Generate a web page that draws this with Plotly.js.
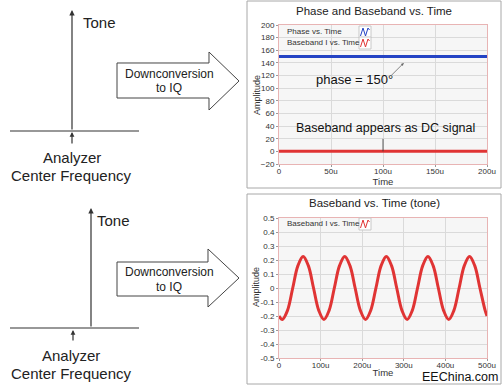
<!DOCTYPE html>
<html>
<head>
<meta charset="utf-8">
<script src="https://cdn.plot.ly/plotly-3.0.1.min.js"></script>
<style>html,body{margin:0;padding:0;background:#fff;}#chart{width:502px;height:386px;}</style>
</head>
<body>
<div id="chart"></div>
<script>
// ---- Data ----
const phaseTime = [0, 25, 27, 30, 50, 52, 55, 58, 100, 102, 105, 188, 190, 193, 200];
const phaseDeg  = [150, 150, 151, 150, 150, 151, 150.5, 150, 150, 151, 150, 150, 151, 150, 150];
const dcTime = [0, 50, 100, 150, 200];
const dcAmp  = [0, 0, 0, 0, 0];
const toneTime = [0, 8, 20.5, 33, 45.5, 58, 70.5, 83, 95.5, 108, 120.5, 133, 145.5, 158, 170.5, 183, 195.5, 208, 220.5, 233, 245.5, 258, 270.5, 283, 295.5, 308, 320.5, 333, 345.5, 358, 370.5, 383, 395.5, 408, 420.5, 433, 445.5, 458, 470.5, 483, 495.5, 500];
const toneAmp = [-0.2,
  -0.225, -0.16, 0, 0.16, 0.225, 0.16, 0, -0.16,
  -0.225, -0.16, 0, 0.16, 0.225, 0.16, 0, -0.16,
  -0.225, -0.16, 0, 0.16, 0.225, 0.16, 0, -0.16,
  -0.225, -0.16, 0, 0.16, 0.225, 0.16, 0, -0.16,
  -0.225, -0.16, 0, 0.16, 0.225, 0.16, 0, -0.16,
  -0.2];
const topXTicks = [0, 50, 100, 150, 200];
const topXLabels = ['0', '50u', '100u', '150u', '200u'];
const topYTicks = [-20, 0, 20, 40, 60, 80, 100, 120, 140, 160, 180, 200];
const botXTicks = [0, 100, 200, 300, 400, 500];
const botXLabels = ['0', '100u', '200u', '300u', '400u', '500u'];
const botYTicks = [-0.5, -0.4, -0.3, -0.2, -0.1, 0, 0.1, 0.2, 0.3, 0.4, 0.5];
const botYLabels = ['-0.5', '-0.4', '-0.3', '-0.2', '-0.1', '0', '0.1', '0.2', '0.3', '0.4', '0.5'];
const seriesNames = ['Phase vs. Time', 'Baseband I vs. Time'];
const seriesColors = ['#2443c4', '#e03434'];

// ---- Helpers (pixel -> paper) ----
const W = 502, H = 386;
const PX = x => x / W;
const PY = y => 1 - y / H;
const ARIAL = 'Liberation Sans, Arial, sans-serif';
const UI = 'Liberation Sans, Arial, sans-serif';

function poly(pts, close) {
  return 'M' + pts.map(p => PX(p[0]).toFixed(5) + ',' + PY(p[1]).toFixed(5)).join(' L') + (close ? ' Z' : '');
}
function bigArrow(x0, yTop, yBot, xh, yHeadTop, yHeadBot, xTip, yTip) {
  return poly([[x0, yTop], [xh, yTop], [xh, yHeadTop], [xTip, yTip], [xh, yHeadBot], [xh, yBot], [x0, yBot]], true);
}
function arrow(xTip, yTip, xTail, yTail, size) {
  return {xref: 'paper', yref: 'paper', x: PX(xTip), y: PY(yTip), ax: xTail - xTip, ay: yTail - yTip,
    text: '', showarrow: true, arrowhead: 2, arrowsize: size || 1, arrowwidth: 1.2, arrowcolor: '#333', standoff: 0, startstandoff: 0};
}
function ptext(txt, x, y, size, opts) {
  return Object.assign({xref: 'paper', yref: 'paper', x: PX(x), y: PY(y), text: txt, showarrow: false,
    xanchor: 'center', yanchor: 'middle', font: {family: ARIAL, size: size, color: '#222'}}, opts || {});
}
// legend entry drawn LabVIEW-style: label then a small boxed waveform icon
function legendEntry(name, color, yc, shapes, annos) {
  annos.push({xref: 'paper', yref: 'paper', x: PX(285), y: PY(yc), text: name, showarrow: false,
    xanchor: 'left', yanchor: 'middle', font: {family: UI, size: 8, color: '#333'}});
  const x0 = 359, x1 = 371, y0 = yc - 6, y1 = yc + 6;
  shapes.push({type: 'rect', xref: 'paper', yref: 'paper', x0: PX(x0), x1: PX(x1), y0: PY(y1), y1: PY(y0),
    fillcolor: '#ffffff', line: {color: '#c8c8c8', width: 1}});
  shapes.push({type: 'path', xref: 'paper', yref: 'paper',
    path: poly([[x0 + 1.5, y1 - 2], [x0 + 4, y0 + 2], [x0 + 6.5, y1 - 2], [x0 + 9, y0 + 2], [x0 + 10.5, y0 + 4]], false),
    line: {color: color, width: 1}});
}

const traces = [
  {x: phaseTime, y: phaseDeg, type: 'scatter', mode: 'lines', name: seriesNames[0],
   line: {color: seriesColors[0], width: 3}, xaxis: 'x', yaxis: 'y'},
  {x: dcTime, y: dcAmp, type: 'scatter', mode: 'lines', name: seriesNames[1],
   line: {color: seriesColors[1], width: 3}, xaxis: 'x', yaxis: 'y'},
  {x: toneTime, y: toneAmp, type: 'scatter', mode: 'lines', name: seriesNames[1],
   line: {color: seriesColors[1], width: 3, shape: 'spline', smoothing: 1}, xaxis: 'x2', yaxis: 'y2'}
];

const axisCommon = {
  showgrid: true, gridcolor: '#dadada', gridwidth: 1, zeroline: false,
  showline: true, mirror: true, linecolor: '#e8b4b4', linewidth: 1,
  ticks: 'outside', ticklen: 2, tickcolor: '#999',
  tickfont: {family: UI, size: 8, color: '#333'}, fixedrange: true
};

const shapes = [
  // panel frames
  {type: 'rect', xref: 'paper', yref: 'paper', x0: PX(247), x1: PX(501), y0: PY(188), y1: PY(1), line: {color: '#a8a8a8', width: 1}},
  {type: 'rect', xref: 'paper', yref: 'paper', x0: PX(247), x1: PX(501), y0: PY(384), y1: PY(194), line: {color: '#a8a8a8', width: 1}},
  // baselines of the spectrum diagrams
  {type: 'line', xref: 'paper', yref: 'paper', x0: PX(10), x1: PX(139), y0: PY(131), y1: PY(131), line: {color: '#333', width: 1.2}},
  {type: 'line', xref: 'paper', yref: 'paper', x0: PX(10), x1: PX(139), y0: PY(328), y1: PY(328), line: {color: '#333', width: 1.2}},
  // big block arrows
  {type: 'path', xref: 'paper', yref: 'paper', path: bigArrow(117, 63, 98, 209, 52, 110, 239, 81), fillcolor: '#ffffff', line: {color: '#444', width: 1}},
  {type: 'path', xref: 'paper', yref: 'paper', path: bigArrow(117, 262, 296, 208, 249, 307, 239, 278), fillcolor: '#ffffff', line: {color: '#444', width: 1}}
];

const annotations = [
  // top-left diagram
  arrow(72, 10, 72, 131, 0.9),
  arrow(72, 132, 72, 145, 0.8),
  ptext('Tone', 99, 23, 15),
  ptext('Analyzer', 72, 157, 15),
  ptext('Center Frequency', 71, 175, 15),
  ptext('Downconversion', 169, 74, 12),
  ptext('to IQ', 169, 88, 12),
  // bottom-left diagram
  arrow(91, 208, 91, 328, 0.9),
  arrow(73, 330, 73, 342, 0.8),
  ptext('Tone', 113, 220, 15),
  ptext('Analyzer', 71, 355, 15),
  ptext('Center Frequency', 71, 373, 15),
  ptext('Downconversion', 169, 272, 12),
  ptext('to IQ', 169, 287, 12),
  // chart titles
  ptext('Phase and Baseband vs. Time', 374, 11, 11, {font: {family: UI, size: 11.5, color: '#222'}}),
  ptext('Baseband vs. Time (tone)', 374, 203, 11, {font: {family: UI, size: 11.5, color: '#222'}}),
  // y-axis titles (placed like the reference, closer than Plotly's default)
  ptext('Amplitude', 257, 95, 9, {textangle: -90, font: {family: UI, size: 9, color: '#333'}}),
  ptext('Amplitude', 256, 287, 9, {textangle: -90, font: {family: UI, size: 9, color: '#333'}}),
  // callouts in top chart
  {xref: 'x', yref: 'y', x: 120, y: 140, ax: -14, ay: 14, text: '', showarrow: true, arrowhead: 2, arrowsize: 0.7, arrowwidth: 0.8, arrowcolor: '#666', standoff: 0},
  {xref: 'x', yref: 'y', x: 73, y: 113, text: 'phase = 150°', showarrow: false, font: {family: ARIAL, size: 13, color: '#111'}},
  {xref: 'x', yref: 'y', x: 100, y: 0, ax: 0, ay: -14, text: '', showarrow: true, arrowhead: 0, arrowwidth: 0.8, arrowcolor: '#333', standoff: 0},
  {xref: 'x', yref: 'y', x: 102, y: 37, text: 'Baseband appears as DC signal', showarrow: false, font: {family: ARIAL, size: 12.5, color: '#111'}},
  // watermark
  ptext('EEChina.com', 460, 377, 12, {font: {family: ARIAL, size: 12.5, color: '#111'}})
];

legendEntry(seriesNames[0], seriesColors[0], 32, shapes, annotations);
legendEntry(seriesNames[1], seriesColors[1], 43, shapes, annotations);
legendEntry(seriesNames[1], seriesColors[1], 224, shapes, annotations);

const layout = {
  width: W, height: H,
  margin: {l: 0, r: 0, t: 0, b: 0},
  paper_bgcolor: '#ffffff', plot_bgcolor: '#f6f6f6',
  showlegend: false,
  xaxis: Object.assign({}, axisCommon, {domain: [PX(279), PX(487)], range: [0, 200], anchor: 'y',
    tickmode: 'array', tickvals: topXTicks, ticktext: topXLabels, ticklabelstandoff: -3,
    title: {text: 'Time', standoff: 0, font: {family: UI, size: 9.5, color: '#333'}}}),
  yaxis: Object.assign({}, axisCommon, {domain: [PY(164), PY(25)], range: [-20, 200], anchor: 'x',
    tickmode: 'array', tickvals: topYTicks}),
  xaxis2: Object.assign({}, axisCommon, {domain: [PX(279), PX(487)], range: [0, 500], anchor: 'y2',
    tickmode: 'array', tickvals: botXTicks, ticktext: botXLabels, ticklabelstandoff: -3,
    title: {text: 'Time', standoff: 0, font: {family: UI, size: 9.5, color: '#333'}}}),
  yaxis2: Object.assign({}, axisCommon, {domain: [PY(358), PY(218)], range: [-0.5, 0.5], anchor: 'x2',
    tickmode: 'array', tickvals: botYTicks, ticktext: botYLabels}),
  shapes: shapes,
  annotations: annotations
};

Plotly.newPlot('chart', traces, layout, {displayModeBar: false, staticPlot: true});
</script>
</body>
</html>
